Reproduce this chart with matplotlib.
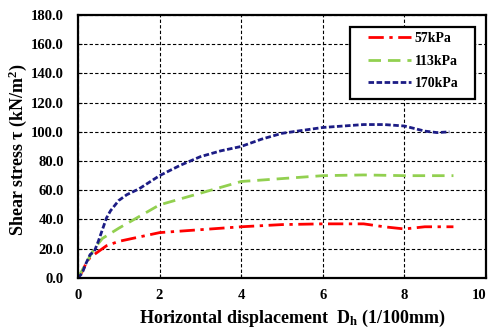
import numpy as np
import matplotlib
matplotlib.use("Agg")
import matplotlib.pyplot as plt
from matplotlib.patches import Rectangle

plt.rcParams['font.family'] = ['Liberation Serif', 'DejaVu Serif']
plt.rcParams['font.weight'] = 'bold'
plt.rcParams['mathtext.fontset'] = 'custom'
plt.rcParams['mathtext.rm'] = 'Liberation Serif:bold'
plt.rcParams['mathtext.it'] = 'Liberation Serif:bold'
plt.rcParams['mathtext.bf'] = 'Liberation Serif:bold'

# Data ---------------------------------------------------------------
x_57 = [0, 0.1, 0.2, 0.3, 0.5, 0.7, 1.0, 1.5, 2.0, 3.0, 4.0, 5.0, 6.0, 7.0, 7.5, 8.0, 8.5, 9.0, 9.2]
y_57 = [0, 4, 10, 14, 18, 22, 25, 28, 31, 33, 35, 36.5, 37, 37, 35, 33.5, 35, 35, 35]

x_113 = [0, 0.2, 0.4, 0.6, 1.0, 1.5, 2.0, 3.0, 4.0, 5.0, 6.0, 7.0, 8.0, 9.0, 9.2]
y_113 = [0, 10, 20, 27, 34, 42, 50, 58, 66, 68, 70, 70.5, 70, 70, 70]

x_170 = [0, 0.1, 0.2, 0.3, 0.4, 0.5, 0.6, 0.7, 0.8, 1.0, 1.2, 1.5, 2.0, 2.5, 3.0, 3.5, 4.0,
         4.5, 5.0, 5.5, 6.0, 6.5, 7.0, 7.5, 8.0, 8.5, 8.8, 9.1]
y_170 = [0, 3, 10, 16, 18, 25, 33, 41, 46, 53, 57, 61, 70, 77, 83, 87, 90,
         95, 99, 101, 103, 104, 105, 105, 104, 100.5, 99.5, 100]

labels = ["57kPa", "113kPa", "170kPa"]
xticks = [0, 2, 4, 6, 8, 10]
yticks = np.arange(0, 181, 20)

# Plot ---------------------------------------------------------------
fig = plt.figure(figsize=(4.93, 3.34), dpi=100)
ax = fig.add_axes([0.158, 0.168, 0.828, 0.787])

ax.plot(x_57, y_57, color='red', lw=2, dashes=(5.5, 2, 1.2, 2), label=labels[0])
ax.plot(x_113, y_113, color='#92d050', lw=2, dashes=(4.5, 2.5), label=labels[1])
ax.plot(x_170, y_170, color='#1c1c85', lw=2, dashes=(2, 0.9), label=labels[2])

ax.set_xlim(0, 10)
ax.set_ylim(0, 180)
ax.set_xticks(xticks)
ax.set_yticks(yticks)
ax.set_yticklabels([f"{v:.1f}" for v in yticks])
ax.tick_params(direction='in', labelsize=10.5, length=3)
ax.tick_params(axis='y', pad=10)
ax.tick_params(axis='x', pad=8)
ax.get_xticklabels()[-1].set_ha('right')
ax.grid(True, color='black', ls=(0, (3, 2)), lw=0.8)
for s in ax.spines.values():
    s.set_linewidth(1.6)

ax.set_xlabel(r"Horizontal displacement  D$_\mathrm{h}$ (1/100mm)", fontsize=13, fontweight='bold')
ax.xaxis.set_label_coords(0.526, -0.115)
ax.set_ylabel(r"Shear stress $\tau$ (kN/m$^2$)", fontsize=13, fontweight='bold')
ax.yaxis.set_label_coords(-0.12, 0.49)

# legend box
ax.add_patch(Rectangle((0.667, 0.681), 0.306, 0.273, transform=ax.transAxes,
                       facecolor='white', edgecolor='black', lw=1.6, zorder=4))
leg = ax.legend(loc='upper left', bbox_to_anchor=(0.711, 0.935), frameon=False,
                fontsize=10, handlelength=3.1, labelspacing=0.68,
                borderpad=0, borderaxespad=0, handletextpad=0.25)
leg.set_zorder(5)

fig.savefig("out.png", dpi=100)
